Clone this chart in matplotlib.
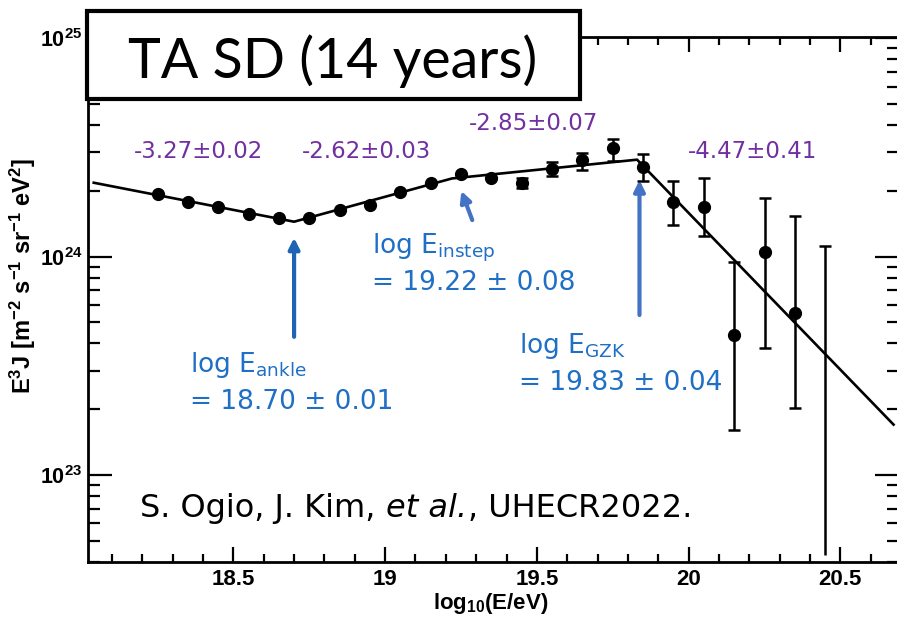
import matplotlib
matplotlib.use('Agg')
import matplotlib.pyplot as plt
import numpy as np
from matplotlib.patches import Rectangle
from matplotlib.ticker import MultipleLocator, LogLocator, NullFormatter

plt.rcParams['font.family'] = ['Liberation Sans', 'DejaVu Sans']
plt.rcParams['mathtext.fontset'] = 'custom'
plt.rcParams['mathtext.rm'] = 'Liberation Sans'
plt.rcParams['mathtext.it'] = 'Liberation Sans:italic'
plt.rcParams['mathtext.bf'] = 'Liberation Sans:bold'

# TA SD spectrum (E^3 J)
logE = np.array([18.25, 18.35, 18.45, 18.55, 18.65, 18.75, 18.85, 18.95, 19.05, 19.15,
                 19.25, 19.35, 19.45, 19.55, 19.65, 19.75, 19.85, 19.95, 20.05, 20.15,
                 20.25, 20.35])
flux = np.array([1.94e24, 1.78e24, 1.68e24, 1.56e24, 1.51e24, 1.51e24, 1.64e24, 1.73e24,
                 1.98e24, 2.18e24, 2.40e24, 2.28e24, 2.18e24, 2.53e24, 2.76e24, 3.13e24,
                 2.58e24, 1.77e24, 1.68e24, 4.38e23, 1.05e24, 5.53e23])
flux_lo = np.array([1.94e24, 1.78e24, 1.68e24, 1.56e24, 1.51e24, 1.51e24, 1.64e24, 1.73e24,
                    1.98e24, 2.18e24, 2.40e24, 2.28e24, 2.07e24, 2.33e24, 2.50e24, 2.73e24,
                    2.23e24, 1.39e24, 1.24e24, 1.61e23, 3.83e23, 2.03e23])
flux_hi = np.array([1.94e24, 1.78e24, 1.68e24, 1.56e24, 1.51e24, 1.51e24, 1.64e24, 1.73e24,
                    1.98e24, 2.18e24, 2.40e24, 2.28e24, 2.29e24, 2.70e24, 2.99e24, 3.44e24,
                    2.96e24, 2.21e24, 2.28e24, 9.40e23, 1.86e24, 1.54e24])

# last bin: only an error bar, no point
ul_logE = [20.45]
ul_lo = [4.3e22]
ul_hi = [1.12e24]

# broken power law fit (vertices)
fit_logE = [18.04, 18.70, 19.22, 19.83, 20.675]
fit_flux = [2.18e24, 1.445e24, 2.28e24, 2.78e24, 1.70e23]

slope_labels = ['-3.27\u00b10.02', '-2.62\u00b10.03', '-2.85\u00b10.07', '-4.47\u00b10.41']
break_names = ['ankle', 'instep', 'GZK']
break_values = ['= 18.70 \u00b1 0.01', '= 19.22 \u00b1 0.08', '= 19.83 \u00b1 0.04']
break_logE = [18.70, 19.22, 19.83]

xtick_vals = [18.5, 19, 19.5, 20, 20.5]
xtick_labels = ['18.5', '19', '19.5', '20', '20.5']
ytick_vals = [1e23, 1e24, 1e25]
ytick_labels = [r'$\mathbf{10^{23}}$', r'$\mathbf{10^{24}}$', r'$\mathbf{10^{25}}$']

W, H = 897, 619
fig = plt.figure(figsize=(W / 100, H / 100), dpi=100)
ax = fig.add_axes([88.3 / W, (H - 562) / H, (899 - 88.3) / W, (562 - 37) / H])

def fx(px):
    return px / W

def fy(py):
    return 1 - py / H

purple = '#7030A0'
blue_txt = '#1F6FC5'
blue_arr = '#4472C4'
annfont = 'DejaVu Sans'

ax.plot(fit_logE, fit_flux, '-', color='k', lw=1.9, zorder=3)
ax.errorbar(logE, flux, yerr=[flux - flux_lo, flux_hi - flux], fmt='o', color='k',
            ms=8.5, elinewidth=1.8, capsize=4, capthick=1.8, zorder=4)
ax.vlines(ul_logE, ul_lo, ul_hi, color='k', lw=1.8, zorder=4)
ax.plot(ul_logE, ul_hi, marker='_', ms=8, mew=1.8, color='k', ls='none', zorder=4)

ax.set_yscale('log')
ax.set_xlim(18.022, 20.693)
ax.set_ylim(10 ** 22.601, 10 ** 25.006)

ax.xaxis.set_minor_locator(MultipleLocator(0.1))
ax.set_xticks(xtick_vals)
ax.set_xticklabels(xtick_labels, fontsize=16, fontweight='bold')
ax.set_yticks(ytick_vals)
ax.set_yticklabels(ytick_labels, fontsize=15.5)
ax.yaxis.set_minor_locator(LogLocator(base=10, subs=np.arange(2, 10)))
ax.yaxis.set_minor_formatter(NullFormatter())

ax.tick_params(which='both', direction='in', top=True, right=True, width=1.6)
ax.tick_params(axis='x', which='major', length=11, pad=5)
ax.tick_params(axis='x', which='minor', length=5.5)
ax.tick_params(axis='y', which='major', length=17.5, pad=4)
ax.tick_params(axis='y', which='minor', length=8.5)
for s in ax.spines.values():
    s.set_linewidth(2)

ax.set_xlabel(r'$\mathbf{log_{10}(E/eV)}$', fontsize=16)
ax.xaxis.set_label_coords(0.496, -0.056)
ax.set_ylabel(r'$\mathbf{E^3J\ [m^{-2}\ s^{-1}\ sr^{-1}\ eV^2]}$', fontsize=17)
ax.yaxis.set_label_coords(-0.062, 0.545)

# arrows marking the breaks
ax.annotate('', xy=(break_logE[0], 1.22e24), xytext=(break_logE[0], 4.29e23),
            arrowprops=dict(arrowstyle='-|>', color='#1F64B4', lw=3, mutation_scale=16,
                            shrinkA=0, shrinkB=0))
ax.annotate('', xy=(19.251, 2.0e24), xytext=(19.287, 1.47e24),
            arrowprops=dict(arrowstyle='-|>', color=blue_arr, lw=3, mutation_scale=16,
                            shrinkA=0, shrinkB=0))
ax.annotate('', xy=(break_logE[2] + 0.008, 2.24e24), xytext=(break_logE[2] + 0.008, 5.4e23),
            arrowprops=dict(arrowstyle='-|>', color=blue_arr, lw=3, mutation_scale=16,
                            shrinkA=0, shrinkB=0))

# spectral indices
slope_pos = [(198, 151), (366, 151), (534, 123), (753, 151)]
for lab, (px, py) in zip(slope_labels, slope_pos):
    fig.text(fx(px), fy(py), lab, color=purple, fontsize=16.5, family=annfont,
             ha='center', va='center')

# break energies
break_pos = [(190, 372), (372, 253), (519, 353)]
for name, val, (px, py) in zip(break_names, break_values, break_pos):
    fig.text(fx(px), fy(py), r'log E$_{\mathregular{%s}}$' % name, color=blue_txt,
             fontsize=19, family=annfont, ha='left', va='baseline')
    fig.text(fx(px), fy(py + 37), val, color=blue_txt, fontsize=19, family=annfont,
             ha='left', va='baseline')

# citation, built from pieces so the italic part sits right
renderer = fig.canvas.get_renderer()
cite_size = 23
x0 = 140
t1 = fig.text(fx(x0), fy(517), 'S. Ogio, J. Kim,', fontsize=cite_size, family=annfont,
              ha='left', va='baseline')
x1 = x0 + t1.get_window_extent(renderer).width + 0.318 * cite_size * 100 / 72
t2 = fig.text(fx(x1), fy(517), 'et al.', fontsize=cite_size, family=annfont,
              style='italic', ha='left', va='baseline')
x2 = x1 + t2.get_window_extent(renderer).width + 1
fig.text(fx(x2), fy(517), ', UHECR2022.', fontsize=cite_size, family=annfont,
         ha='left', va='baseline')

# title box
box = Rectangle((fx(87), fy(99)), (580 - 87) / W, (99 - 11) / H, transform=fig.transFigure,
                facecolor='white', edgecolor='black', lw=3, zorder=10)
fig.patches.append(box)
fig.text(fx(333), fy(78), 'TA SD (14 years)', fontsize=40, family='Lato',
         ha='center', va='baseline', zorder=11)

fig.savefig('out.png', dpi=100)
